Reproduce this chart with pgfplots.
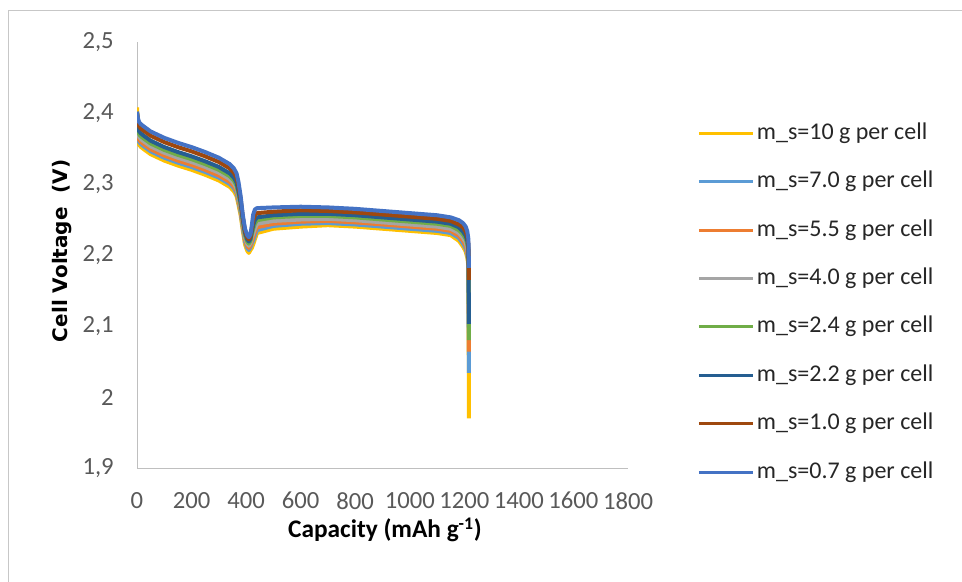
\documentclass[border=0pt]{standalone}
\usepackage{pgfplots}
\pgfplotsset{compat=1.18}
\usepackage{fontspec}
\setmainfont{Carlito}
\newfontfamily\dejavu{DejaVu Sans}

\definecolor{cYellow}{HTML}{FFC000}
\definecolor{cLightBlue}{HTML}{5B9BD5}
\definecolor{cOrange}{HTML}{ED7D31}
\definecolor{cGrey}{HTML}{A5A5A5}
\definecolor{cGreen}{HTML}{70AD47}
\definecolor{cDarkBlue}{HTML}{255E91}
\definecolor{cBrown}{HTML}{9E480E}
\definecolor{cBlue}{HTML}{4472C4}
\definecolor{tickgray}{HTML}{595959}

\begin{document}
\begin{tikzpicture}
\useasboundingbox (-102.75pt,-84.75pt) rectangle (618.75pt,351pt);
\begin{axis}[
  at={(0pt,0pt)}, anchor=south west,
  scale only axis, width=368.25pt, height=319.5pt,
  xmin=0, xmax=1800, ymin=1.9, ymax=2.5,
  xtick={0,200,400,600,800,1000,1200,1400,1600,1800},
  ytick={1.9,2,2.1,2.2,2.3,2.4,2.5},
  axis x line=bottom, axis y line=left,
  axis line style={-, draw=black!25, line width=0.75pt},
  major tick length=0pt,
  tick label style={font=\fontsize{18.5}{20}\selectfont, text=tickgray},
  /pgf/number format/assume math mode=true,
  xticklabel style={/pgf/number format/1000 sep={}, inner sep=0pt, anchor=north, yshift=-18pt},
  yticklabel style={/pgf/number format/.cd, use comma, fixed, precision=1, 1000 sep={}, /tikz/.cd, inner sep=0pt, anchor=east, xshift=-17.25pt},
  xlabel={Capacity (mAh g\textsuperscript{-1})},
  ylabel={Cell Voltage~ (V)},
  every axis x label/.style={at={(axis description cs:0.505,-0.1455)}, anchor=center, font=\fontsize{19}{21}\selectfont\bfseries},
  every axis y label/.style={at={(axis description cs:-0.1527,0.51)}, anchor=center, rotate=90, font=\fontsize{15}{17}\dejavu\bfseries},
  legend style={at={(axis description cs:1.1405,0.813)}, anchor=north west, draw=none, fill=none, inner sep=0pt,
    row sep=19.3pt, font=\fontsize{18}{20}\selectfont, text=black!85,
    nodes={inner sep=0pt, text height=13pt, text depth=4pt},
    /tikz/every odd column/.style={column sep=1.5pt}},
  legend cell align=left,
  legend image code/.code={\draw[#1, line width=2.25pt, line cap=butt] (0pt,0pt) -- (41pt,0pt);},
  every axis plot/.append style={line width=3pt, line join=round, no markers},
]
% m_s = 10 g per cell
\addplot[cYellow] coordinates {
(0,2.408) (3,2.377) (8,2.355) (15,2.352) (25,2.349) (50,2.342) (100,2.333) (150,2.326)
(200,2.320) (250,2.313) (300,2.305) (340,2.296) (355,2.290) (365,2.283) (372,2.271)
(380,2.256) (388,2.234) (396,2.215) (404,2.206) (410,2.203) (416,2.207) (421,2.210)
(426,2.215) (432,2.222) (440,2.231) (500,2.237) (600,2.240) (700,2.242) (800,2.240)
(900,2.237) (1000,2.234) (1100,2.231) (1150,2.228) (1180,2.220) (1195,2.212)
(1205,2.205) (1211,2.196) (1215,2.185) (1217,1.970)};
\addlegendentry{m\_s=10 g per cell}
% m_s = 7.0 g per cell
\addplot[cLightBlue] coordinates {
(0,2.398) (3,2.379) (8,2.359) (15,2.356) (25,2.353) (50,2.346) (100,2.337) (150,2.330)
(200,2.324) (250,2.317) (300,2.309) (340,2.300) (355,2.294) (365,2.287) (372,2.275)
(380,2.260) (388,2.238) (396,2.219) (404,2.210) (410,2.207) (416,2.211) (421,2.216)
(426,2.220) (432,2.227) (440,2.235) (500,2.241) (600,2.244) (700,2.245) (800,2.243)
(900,2.240) (1000,2.237) (1100,2.234) (1150,2.231) (1180,2.224) (1195,2.216)
(1205,2.209) (1211,2.200) (1215,2.189) (1217,2.034)};
\addlegendentry{m\_s=7.0 g per cell}
% m_s = 5.5 g per cell
\addplot[cOrange] coordinates {
(0,2.399) (3,2.380) (8,2.362) (15,2.359) (25,2.356) (50,2.349) (100,2.340) (150,2.333)
(200,2.327) (250,2.320) (300,2.312) (340,2.303) (355,2.297) (365,2.290) (372,2.278)
(380,2.263) (388,2.241) (396,2.222) (404,2.213) (410,2.210) (416,2.214) (421,2.220)
(426,2.225) (432,2.232) (440,2.239) (500,2.244) (600,2.247) (700,2.248) (800,2.246)
(900,2.243) (1000,2.240) (1100,2.237) (1150,2.234) (1180,2.227) (1195,2.220)
(1205,2.213) (1211,2.204) (1215,2.193) (1217,2.064)};
\addlegendentry{m\_s=5.5 g per cell}
% m_s = 4.0 g per cell
\addplot[cGrey] coordinates {
(0,2.399) (3,2.382) (8,2.366) (15,2.363) (25,2.360) (50,2.353) (100,2.344) (150,2.337)
(200,2.331) (250,2.324) (300,2.316) (340,2.307) (355,2.301) (365,2.294) (372,2.282)
(380,2.267) (388,2.244) (396,2.225) (404,2.216) (410,2.213) (416,2.217) (421,2.225)
(426,2.230) (432,2.237) (440,2.244) (500,2.248) (600,2.250) (700,2.251) (800,2.249)
(900,2.246) (1000,2.243) (1100,2.240) (1150,2.237) (1180,2.231) (1195,2.224)
(1205,2.218) (1211,2.209) (1215,2.198) (1217,2.090)};
\addlegendentry{m\_s=4.0 g per cell}
% m_s = 2.4 g per cell
\addplot[cGreen] coordinates {
(0,2.400) (3,2.385) (8,2.370) (15,2.367) (25,2.364) (50,2.357) (100,2.348) (150,2.341)
(200,2.335) (250,2.328) (300,2.320) (340,2.311) (355,2.305) (365,2.298) (372,2.286)
(380,2.270) (388,2.247) (396,2.228) (404,2.219) (410,2.216) (416,2.220) (421,2.229)
(426,2.237) (432,2.244) (440,2.249) (500,2.253) (600,2.255) (700,2.255) (800,2.253)
(900,2.250) (1000,2.247) (1100,2.244) (1150,2.241) (1180,2.235) (1195,2.229)
(1205,2.223) (1211,2.215) (1215,2.204) (1217,2.080)};
\addlegendentry{m\_s=2.4 g per cell}
% m_s = 2.2 g per cell
\addplot[cDarkBlue] coordinates {
(0,2.400) (3,2.387) (8,2.374) (15,2.371) (25,2.368) (50,2.361) (100,2.352) (150,2.345)
(200,2.339) (250,2.332) (300,2.324) (340,2.315) (355,2.309) (365,2.302) (372,2.290)
(380,2.274) (388,2.250) (396,2.231) (404,2.222) (410,2.219) (416,2.223) (421,2.233)
(426,2.242) (432,2.249) (440,2.253) (500,2.256) (600,2.258) (700,2.258) (800,2.256)
(900,2.253) (1000,2.250) (1100,2.247) (1150,2.244) (1180,2.239) (1195,2.233)
(1205,2.227) (1211,2.220) (1215,2.209) (1217,2.103)};
\addlegendentry{m\_s=2.2 g per cell}
% m_s = 1.0 g per cell
\addplot[cBrown] coordinates {
(0,2.401) (3,2.390) (8,2.381) (15,2.378) (25,2.375) (50,2.368) (100,2.359) (150,2.352)
(200,2.346) (250,2.339) (300,2.331) (340,2.322) (355,2.316) (365,2.309) (372,2.297)
(380,2.279) (388,2.253) (396,2.234) (404,2.225) (410,2.222) (416,2.226) (421,2.238)
(426,2.249) (432,2.256) (440,2.259) (500,2.261) (600,2.263) (700,2.262) (800,2.260)
(900,2.257) (1000,2.254) (1100,2.251) (1150,2.248) (1180,2.243) (1195,2.239)
(1205,2.233) (1211,2.226) (1215,2.215) (1217,2.165)};
\addlegendentry{m\_s=1.0 g per cell}
% m_s = 0.7 g per cell
\addplot[cBlue] coordinates {
(0,2.402) (3,2.393) (8,2.387) (15,2.384) (25,2.381) (50,2.374) (100,2.365) (150,2.358)
(200,2.352) (250,2.345) (300,2.337) (340,2.328) (355,2.322) (365,2.315) (372,2.303)
(380,2.283) (388,2.256) (396,2.237) (404,2.228) (410,2.225) (416,2.229) (421,2.242)
(426,2.257) (432,2.264) (440,2.266) (500,2.267) (600,2.268) (700,2.267) (800,2.265)
(900,2.262) (1000,2.259) (1100,2.256) (1150,2.253) (1180,2.249) (1195,2.245)
(1205,2.240) (1211,2.233) (1215,2.222) (1217,2.182)};
\addlegendentry{m\_s=0.7 g per cell}
\end{axis}
% chart area frame
\draw[black!22, line width=0.75pt] (-96pt,-95pt) -- (-96pt,342.75pt) -- (630pt,342.75pt);
\end{tikzpicture}
\end{document}
